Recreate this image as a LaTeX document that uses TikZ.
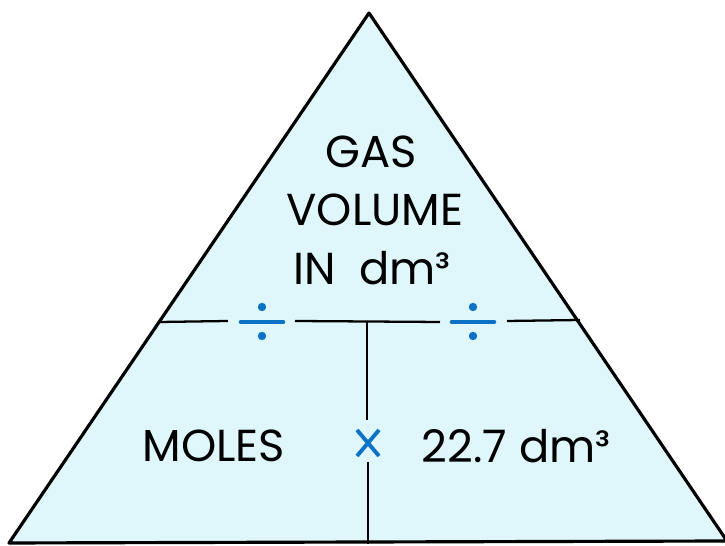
\documentclass[tikz,border=0pt]{standalone}
\usepackage{fontspec}
\setmainfont{Poppins}
\definecolor{trifill}{HTML}{DFF7FB}
\definecolor{opblue}{HTML}{0B72C6}
\begin{document}
\begin{tikzpicture}[x=0.02cm, y=-0.02cm, every node/.style={font=\fontsize{25.5}{30}\selectfont, inner sep=0pt}]
    \useasboundingbox (0,0) rectangle (725,546);

    % Треугольник
    \coordinate (top) at (369,13);
    \coordinate (bl) at (9,543);
    \coordinate (br) at (727,541);
    \draw[line width=1.8pt, line join=round, fill=trifill] (top) -- (bl) -- (br) -- cycle;

    % Горизонтальная линия с промежутками
    \draw[line width=1.3pt] (160,322) -- (228,321);
    \draw[line width=1.3pt] (295,321) -- (440,322);
    \draw[line width=1.3pt] (507,321) -- (580,320);

    % Вертикальная линия
    \draw[line width=1.3pt] (367,322) -- (367,420);
    \draw[line width=1.3pt] (368,462) -- (368,544);

    % Знаки деления
    \foreach \x in {262,473} {
      \draw[opblue, line width=2.6pt, line cap=round] (\x-21,322) -- (\x+21,322);
      \fill[opblue] (\x,307) circle (4.2);
      \fill[opblue] (\x,336) circle (4.2);
    }

    % Знак умножения
    \draw[opblue, line width=2.2pt] (357,430) -- (379,456);
    \draw[opblue, line width=2.2pt] (379,430) -- (357,456);

    % Подписи
    \node (gas) at (371,152) {GAS};
    \node (volume) at (375,210) {VOLUME};
    \node (volin) at (372,268) {IN\ \ dm³};
    \node (moles) at (214,446) {MOLES};
    \node (molar) at (516,446) {22.7 dm³};
\end{tikzpicture}
\end{document}
